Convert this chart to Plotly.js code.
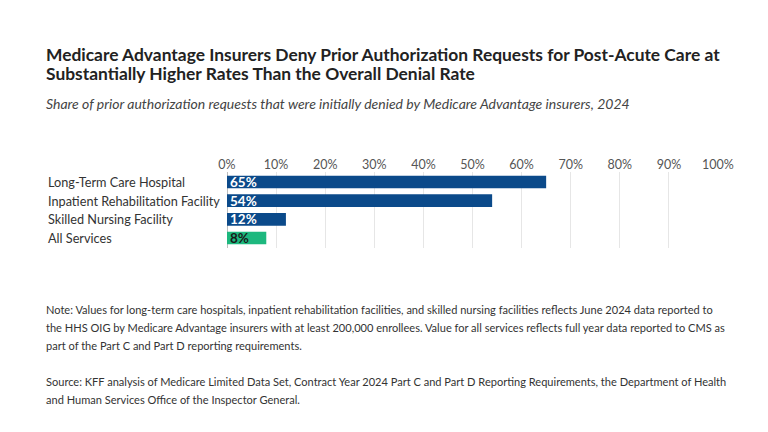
<!DOCTYPE html>
<html>
<head>
<meta charset="utf-8">
<script src="https://cdn.plot.ly/plotly-3.0.1.min.js"></script>
<style>
  html, body { margin: 0; padding: 0; background: #fff; }
  #chart { width: 768px; height: 432px; }
</style>
</head>
<body>
<div id="chart"></div>
<script>
// Prior authorization denial rates by service type, 2024
const categories = [
  "Long-Term Care Hospital",
  "Inpatient Rehabilitation Facility",
  "Skilled Nursing Facility",
  "All Services"
];
const denialRates = [65, 54, 12, 8];
const barColors = ["#0b4a8a", "#0b4a8a", "#0b4a8a", "#1db87e"];
const labelColors = ["#ffffff", "#ffffff", "#ffffff", "#1a1a1a"];
const tickValues = [0, 10, 20, 30, 40, 50, 60, 70, 80, 90, 100];
const tickLabels = tickValues.map(v => v + "%");

const titleLines = [
  "Medicare Advantage Insurers Deny Prior Authorization Requests for Post-Acute Care at",
  "Substantially Higher Rates Than the Overall Denial Rate"
];
const subtitle = "Share of prior authorization requests that were initially denied by Medicare Advantage insurers, 2024";
const noteLines = [
  "Note: Values for long-term care hospitals, inpatient rehabilitation facilities, and skilled nursing facilities reflects June 2024 data reported to",
  "the HHS OIG by Medicare Advantage insurers with at least 200,000 enrollees. Value for all services reflects full year data reported to CMS as",
  "part of the Part C and Part D reporting requirements.",
  "",
  "Source: KFF analysis of Medicare Limited Data Set, Contract Year 2024 Part C and Part D Reporting Requirements, the Department of Health",
  "and Human Services Office of the Inspector General."
];

const FONT = "Lato, 'Open Sans', sans-serif";
const W = 768, H = 432;
const M = { l: 227, r: 50, t: 172, b: 184 };

const trace = {
  type: "bar",
  orientation: "h",
  y: categories,
  x: denialRates,
  text: denialRates.map(v => v + "%"),
  textposition: "inside",
  insidetextanchor: "start",
  constraintext: "none",
  textfont: { family: FONT, size: 13.5, color: labelColors, weight: 700 },
  marker: { color: barColors, line: { width: 0 } },
  hoverinfo: "skip",
  cliponaxis: false
};

// pixel helpers for paper-referenced annotations
const px = x => (x - M.l) / (W - M.l - M.r);
const py = y => 1 - (y - M.t) / (H - M.t - M.b);

const annotations = [];
titleLines.forEach((t, i) => annotations.push({
  xref: "paper", yref: "paper", x: px(44), y: py(55 + i * 19),
  xanchor: "left", yanchor: "middle", showarrow: false, align: "left",
  text: "<b>" + t + "</b>",
  font: { family: FONT, size: 17.4, color: "#222" }
}));
annotations.push({
  xref: "paper", yref: "paper", x: px(44), y: py(104),
  xanchor: "left", yanchor: "middle", showarrow: false, align: "left",
  text: "<i>" + subtitle + "</i>",
  font: { family: FONT, size: 14, color: "#444" }
});
categories.forEach(c => annotations.push({
  xref: "paper", yref: "y", x: px(46), y: c,
  xanchor: "left", yanchor: "middle", showarrow: false, align: "left",
  text: c,
  font: { family: FONT, size: 12.7, color: "#333" }
}));
noteLines.forEach((t, i) => {
  if (!t) return;
  annotations.push({
    xref: "paper", yref: "paper", x: px(44), y: py(309 + i * 18),
    xanchor: "left", yanchor: "middle", showarrow: false, align: "left",
    text: t,
    font: { family: FONT, size: 11.05, color: "#333" }
  });
});

const layout = {
  width: W, height: H,
  margin: M,
  paper_bgcolor: "#fff",
  plot_bgcolor: "#fff",
  showlegend: false,
  bargap: 0.32,
  font: { family: FONT, color: "#333" },
  xaxis: {
    side: "top",
    range: [0, 100],
    tickvals: tickValues,
    ticktext: tickLabels,
    showgrid: true,
    gridcolor: "#e6e6e6",
    gridwidth: 1,
    zeroline: true,
    zerolinecolor: "#bdbdbd",
    zerolinewidth: 1,
    ticks: "",
    tickfont: { family: FONT, size: 12.5, color: "#555" },
    fixedrange: true
  },
  yaxis: {
    autorange: "reversed",
    showticklabels: false,
    showgrid: false,
    zeroline: false,
    ticks: "",
    fixedrange: true
  },
  annotations: annotations
};

Plotly.newPlot("chart", [trace], layout, { displayModeBar: false, staticPlot: true });
</script>
</body>
</html>
